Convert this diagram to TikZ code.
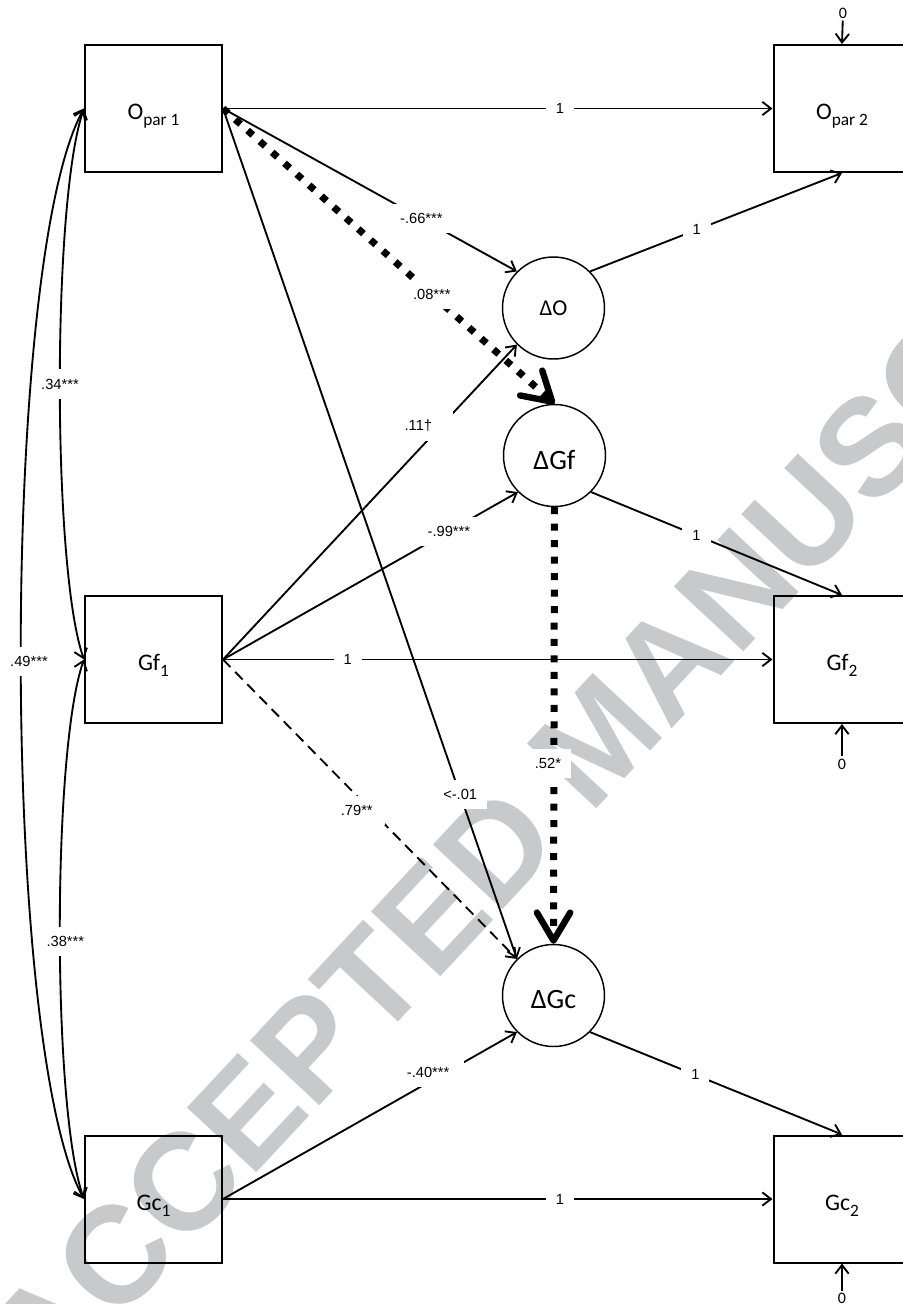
\documentclass[tikz,border=0pt]{standalone}
\usepackage{fontspec}
\setmainfont{Carlito}
\newfontfamily\lblfont{Liberation Sans}
\newfontfamily\wmfont{Liberation Sans}
\usetikzlibrary{arrows.meta}
\newcommand\subtxt[1]{\raisebox{-4.5pt}{\fontsize{13}{14}\selectfont #1}}
\definecolor{wmgray}{RGB}{200,201,203}
\begin{document}
\begin{tikzpicture}[x=0.75pt,y=-0.75pt,
  obs/.style={draw, line width=1.5pt, minimum width=102.75pt, minimum height=95.25pt, inner sep=0pt,
    text height=16.8pt, text depth=0pt, font=\fontsize{17.8}{20}\selectfont},
  lat/.style={draw, circle, line width=1.1pt, minimum size=76.5pt, inner sep=0pt, text depth=0pt},
  arr/.style={line width=1.4pt, -{Straight Barb[length=6.5pt,width=10pt,line width=1.4pt]}},
  cov/.style={line width=1.4pt, {Straight Barb[length=6.5pt,width=10pt,line width=1.4pt]}-{Straight Barb[length=6.5pt,width=10pt,line width=1.4pt]}},
  bigarr/.style={line width=5.25pt, dash pattern=on 5.25pt off 7.1pt, -{Straight Barb[length=21pt,width=25pt,line width=4.8pt,round]}},
  lbl/.style={fill=white, inner xsep=7.5pt, inner ysep=7pt, font=\lblfont\fontsize{11}{13}\selectfont},
  zero/.style={font=\fontsize{12}{14}\selectfont, inner sep=1.5pt},
]
\useasboundingbox (0,0) rectangle (903,1304);

% watermark
\node[rotate=47, font=\wmfont\bfseries\fontsize{103.5}{110}\selectfont, text=wmgray, inner sep=0pt] (wm) at (598,738) {ACCEPTED MANUSCRIPT};

% observed variables
\node[obs] (Op1) at (153.5,108.5) {O\subtxt{par 1}};
\node[obs] (Op2) at (842,108.5) {O\subtxt{par 2}};
\node[obs] (Gf1) at (153.5,659.5) {Gf\subtxt{1}};
\node[obs] (Gf2) at (842,659.5) {Gf\subtxt{2}};
\node[obs] (Gc1) at (153.5,1199) {Gc\subtxt{1}};
\node[obs] (Gc2) at (842,1199) {Gc\subtxt{2}};

% latent change scores
\node[lat, font=\fontsize{17}{19}\selectfont, text height=10.5pt] (dO) at (553.5,308) {ΔO};
\node[lat, font=\fontsize{21}{24}\selectfont, text height=20.7pt] (dGf) at (554.5,455.5) {ΔGf};
\node[lat, font=\fontsize{21}{24}\selectfont, text height=19.2pt] (dGc) at (553.5,995.5) {ΔGc};

% residual zeros
\node[zero] (e1) at (843,13) {0};
\node[zero] (e2) at (842,764) {0};
\node[zero] (e3) at (842,1298) {0};
\draw[arr] (e1) -- (Op2.north);
\draw[arr] (e2) -- (Gf2.south);
\draw[arr] (e3) -- (Gc2.south);

% covariances
\draw[cov] (Op1.west) .. controls (52,200) and (52,568) .. (Gf1.west) node[lbl,pos=0.5] {.34***};
\draw[cov] (Gf1.west) .. controls (52,750) and (52,1110) .. (Gc1.west) node[lbl,pos=0.5,xshift=4pt,yshift=-9pt] {.38***};
\draw[cov] (Op1.west) .. controls (0,260) and (0,1047) .. (Gc1.west) node[lbl,pos=0.5,xshift=6pt,yshift=-6pt] {.49***};

% paths
\draw[arr] (Op1.east) -- node[lbl,pos=0.613] {1} (Op2.west);
\draw[arr] (Op1.east) -- node[lbl,pos=0.675] {-.66***} (dO.135);
\draw[arr] (Op1.east) -- node[lbl,pos=0.807] {<-.01} (dGc.135);
\draw[arr] (dO.45) -- node[lbl,pos=0.423] {1} (Op2.south);
\draw[arr] (Gf1.east) -- node[lbl,pos=0.743,xshift=-17.25pt,inner xsep=16pt] {.11†} (dO.225);
\draw[arr] (Gf1.east) -- node[lbl,pos=0.766] {-.99***} (dGf.225);
\draw[arr] (Gf1.east) -- node[lbl,pos=0.227] {1} (Gf2.west);
\draw[arr, dash pattern=on 8pt off 5pt] (Gf1.east) -- node[lbl,pos=0.505,xshift=-11pt,inner xsep=9pt] {.79**} (dGc.135);
\draw[arr] (dGf.-45) -- node[lbl,pos=0.42] {1} (Gf2.north);
\draw[arr] (Gc1.east) -- node[lbl,pos=0.759,xshift=-13.5pt,inner xsep=11pt] {-.40***} (dGc.225);
\draw[arr] (Gc1.east) -- node[lbl,pos=0.613] {1} (Gc2.west);
\draw[arr] (dGc.-45) -- node[lbl,pos=0.418] {1} (Gc2.north);
\draw[bigarr] (Op1.east) -- node[lbl,pos=0.63] {.08***} (dGf.north);
\draw[bigarr] (dGf.south) -- node[lbl,pos=0.588,xshift=-4.5pt] {.52*} (dGc.north);
\end{tikzpicture}
\end{document}
